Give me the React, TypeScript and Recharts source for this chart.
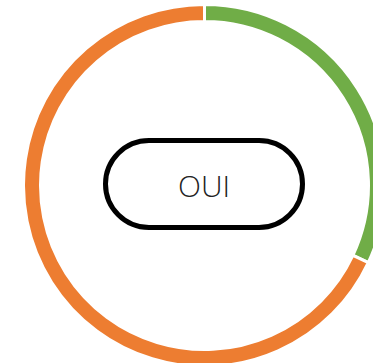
import { PieChart, Pie, Cell } from 'recharts'

const categories = ['Oui', 'Non']
const values = [32, 68]
const colors = ['#70AD47', '#ED7D31']
const centerLabel = 'OUI'

const data = categories.map((name, i) => ({ name, value: values[i] }))

export default function App() {
    return (
        <div style={{ position: 'fixed', top: 0, left: 0, width: 373, height: 363, background: '#fff', overflow: 'hidden' }}>
            <PieChart width={373} height={363} margin={{ top: 0, right: 0, bottom: 0, left: 0 }}>
                <Pie
                    data={data}
                    dataKey="value"
                    cx={204.5}
                    cy={185.5}
                    innerRadius={164}
                    outerRadius={181}
                    startAngle={90}
                    endAngle={-270}
                    stroke="#ffffff"
                    strokeWidth={3}
                    isAnimationActive={false}
                >
                    {data.map((d, i) => (
                        <Cell key={d.name} fill={colors[i]} />
                    ))}
                </Pie>
            </PieChart>

            {/* center pill */}
            <div
                style={{
                    position: 'absolute',
                    left: 103,
                    top: 138,
                    width: 202,
                    height: 92,
                    boxSizing: 'border-box',
                    border: '5px solid #000',
                    borderRadius: 46,
                    background: '#fff',
                    display: 'flex',
                    alignItems: 'center',
                    justifyContent: 'center',
                    fontFamily: "'Open Sans', sans-serif",
                    fontWeight: 300,
                    fontSize: 30,
                    color: '#222',
                    lineHeight: 1,
                }}
            >
                <span style={{ position: 'relative', top: 2 }}>{centerLabel}</span>
            </div>
        </div>
    )
}
